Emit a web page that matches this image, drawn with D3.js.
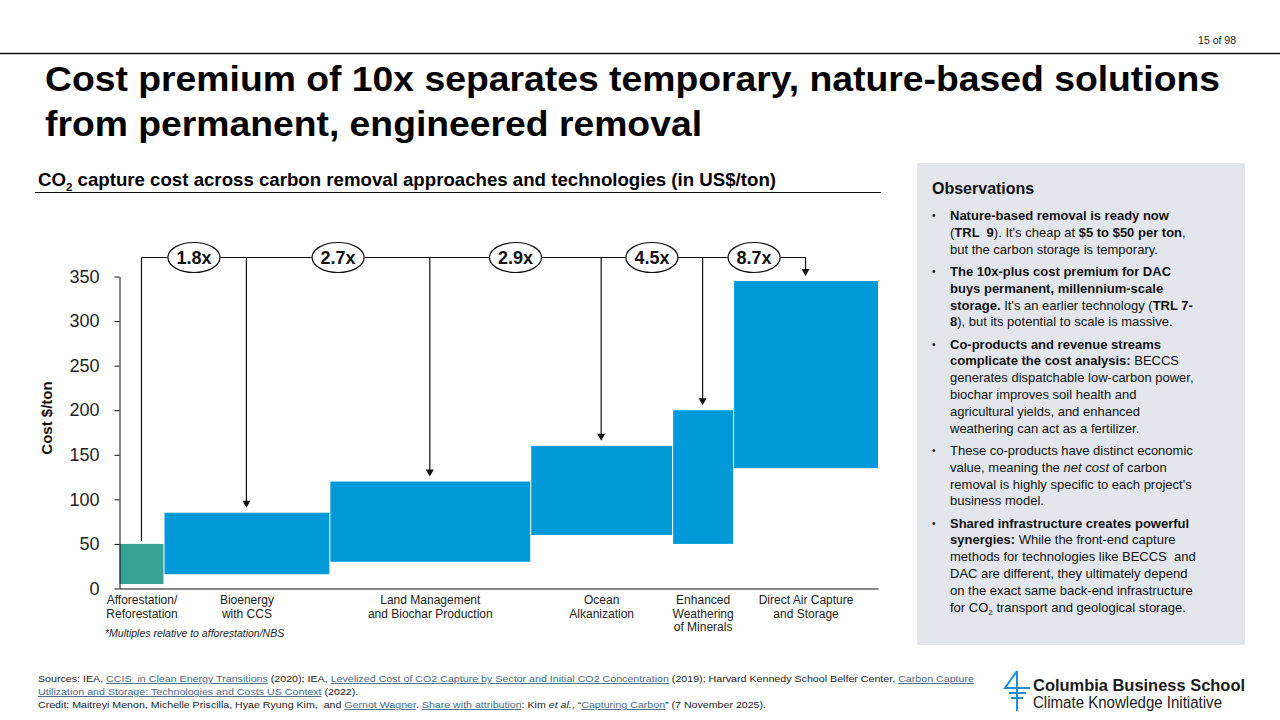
<!DOCTYPE html>
<html lang="en">
<head>
<meta charset="utf-8">
<title>Cost premium of 10x</title>
<script src="https://d3js.org/d3.v7.min.js"></script>
<style>
  body { margin: 0; background: #fff; }
  svg text { font-family: "Liberation Sans", Arial, sans-serif; white-space: pre; }
</style>
</head>
<body>
<svg id="slide" width="1280" height="720"></svg>
<script>
// Chart data
const categories = ["Afforestation/Reforestation", "Bioenergy with CCS", "Land Management and Biochar Production",
  "Ocean Alkanization", "Enhanced Weathering of Minerals", "Direct Air Capture and Storage"];
const categoryLines = [["Afforestation/", "Reforestation"], ["Bioenergy", "with CCS"], ["Land Management", "and Biochar Production"],
  ["Ocean", "Alkanization"], ["Enhanced", "Weathering", "of Minerals"], ["Direct Air Capture", "and Storage"]];
const costLow = [5, 16, 30, 60, 50, 135];
const costHigh = [50, 85, 120, 160, 200, 345];
const barWidths = [44, 166, 201, 142, 61, 145]; // relative widths as drawn
const multiples = ["1.8x", "2.7x", "2.9x", "4.5x", "8.7x"];
const yTicks = [0, 50, 100, 150, 200, 250, 300, 350];

const blue = "#009ad9", teal = "#36a394", linkColor = "#4a6b87";

const svg = d3.select("#slide");

// Rich text helper: segments are strings or [text, flags] (b bold, i italic, u link, s subscript)
function richLine(g, x, y, segs, size, color) {
  const t = g.append("text").attr("x", x).attr("y", y)
    .style("font-size", size + "px").style("fill", color || "#111");
  let shifted = false;
  segs.forEach(s => {
    const [txt, fl] = typeof s === "string" ? [s, ""] : s;
    const ts = t.append("tspan").text(txt);
    if (fl.includes("b")) ts.style("font-weight", "700");
    if (fl.includes("i")) ts.style("font-style", "italic");
    if (fl.includes("u")) ts.style("text-decoration", "underline").style("fill", linkColor);
    if (fl.includes("s")) {
      ts.style("font-size", (size * 0.62) + "px").attr("dy", size * 0.25);
      shifted = true;
    } else if (shifted) {
      ts.attr("dy", -size * 0.25);
      shifted = false;
    }
  });
  return t;
}

// Header
svg.append("line").attr("x1", 0).attr("x2", 1280).attr("y1", 53.5).attr("y2", 53.5)
  .attr("stroke", "#111").attr("stroke-width", 1.3);
svg.append("text").attr("x", 1236).attr("y", 44).attr("text-anchor", "end")
  .style("font-size", "10.5px").style("fill", "#222").text("15 of 98");

svg.append("text").attr("x", 45).attr("y", 91).attr("textLength", 1175).attr("lengthAdjust", "spacingAndGlyphs")
  .style("font-size", "35px").style("font-weight", "700").style("fill", "#000")
  .text("Cost premium of 10x separates temporary, nature-based solutions");
svg.append("text").attr("x", 45).attr("y", 136).attr("textLength", 657).attr("lengthAdjust", "spacingAndGlyphs")
  .style("font-size", "35px").style("font-weight", "700").style("fill", "#000")
  .text("from permanent, engineered removal");

// Chart subtitle
richLine(svg, 38, 186, [["CO", "b"], ["2", "bs"], [" capture cost across carbon removal approaches and technologies (in US$/ton)", "b"]], 19, "#000")
  .attr("textLength", 738).attr("lengthAdjust", "spacingAndGlyphs");
svg.append("line").attr("x1", 35).attr("x2", 881).attr("y1", 192.5).attr("y2", 192.5)
  .attr("stroke", "#111").attr("stroke-width", 1);

// Scales
const starts = [0, ...d3.cumsum(barWidths)].slice(0, barWidths.length);
const x = d3.scaleLinear().domain([0, d3.sum(barWidths)]).range([119.5, 878]);
const y = d3.scaleLinear().domain([0, 350]).range([588.5, 276.5]);
const centers = barWidths.map((w, i) => x(starts[i] + w / 2));

const chart = svg.append("g");

// Bars
chart.selectAll(".bar")
  .data(categories)
  .enter()
  .append("rect")
  .attr("class", "bar")
  .attr("x", (d, i) => x(starts[i]) + (i > 0 ? 1 : 0))
  .attr("width", (d, i) => x(starts[i] + barWidths[i]) - x(starts[i]) - (i > 0 ? 1 : 0))
  .attr("y", (d, i) => y(costHigh[i]))
  .attr("height", (d, i) => y(costLow[i]) - y(costHigh[i]))
  .attr("fill", (d, i) => i === 0 ? teal : blue);

// Axes
const yAxis = chart.append("g")
  .attr("transform", `translate(${x(0)},0)`)
  .call(d3.axisLeft(y).tickValues(yTicks).tickSize(5).tickSizeOuter(0).tickPadding(15));
yAxis.selectAll("text").style("font-size", "18px").style("fill", "#222")
  .style("font-family", "'Liberation Sans', Arial, sans-serif");
yAxis.selectAll("line, path").attr("stroke", "#111");

const xAxis = chart.append("g")
  .attr("transform", `translate(0,${y(0)})`)
  .call(d3.axisBottom(x).tickValues(barWidths.map((w, i) => starts[i] + w / 2)).tickSize(0).tickSizeOuter(0).tickFormat(""));
xAxis.select(".domain").attr("stroke", "#111");
xAxis.selectAll(".tick text").each(function (d, i) {
  const t = d3.select(this).attr("y", 0).attr("dy", null)
    .style("font-size", "12px").style("fill", "#222")
    .style("font-family", "'Liberation Sans', Arial, sans-serif");
  categoryLines[i].forEach((ln, k) => {
    t.append("tspan").attr("x", 0).attr("y", 15.5 + k * 13.7).text(ln);
  });
});

svg.append("text")
  .attr("transform", "translate(52,418) rotate(-90)")
  .attr("text-anchor", "middle")
  .style("font-size", "15px").style("font-weight", "700").style("fill", "#111")
  .text("Cost $/ton");

svg.append("text").attr("x", 105).attr("y", 637)
  .style("font-size", "10.5px").style("font-style", "italic").style("fill", "#222")
  .text("*Multiples relative to afforestation/NBS");

// Connectors and arrows
const railY = 257.5;
chart.append("line")
  .attr("x1", centers[0]).attr("x2", centers[centers.length - 1])
  .attr("y1", railY).attr("y2", railY)
  .attr("stroke", "#111").attr("stroke-width", 1.2);

centers.forEach((cx, i) => {
  const top = y(costHigh[i]);
  if (i === 0) {
    chart.append("line").attr("x1", cx).attr("x2", cx).attr("y1", railY).attr("y2", top - 3)
      .attr("stroke", "#111").attr("stroke-width", 1.2);
  } else {
    const tip = top - 5;
    chart.append("line").attr("x1", cx).attr("x2", cx).attr("y1", railY).attr("y2", tip - 6)
      .attr("stroke", "#111").attr("stroke-width", 1.2);
    chart.append("path")
      .attr("d", `M${cx - 4},${tip - 7}L${cx + 4},${tip - 7}L${cx},${tip}Z`)
      .attr("fill", "#111");
  }
});

const badges = chart.selectAll(".badge")
  .data(multiples)
  .enter()
  .append("g")
  .attr("class", "badge")
  .attr("transform", (d, i) => `translate(${(centers[i] + centers[i + 1]) / 2},${railY})`);
badges.append("ellipse").attr("rx", 26).attr("ry", 15)
  .attr("fill", "#fff").attr("stroke", "#111").attr("stroke-width", 1.2);
badges.append("text").attr("text-anchor", "middle").attr("y", 6.5)
  .style("font-size", "18px").style("font-weight", "700").style("fill", "#111")
  .text(d => d);

// Observations panel
const panel = svg.append("g");
panel.append("rect").attr("x", 917).attr("y", 163).attr("width", 328).attr("height", 482).attr("fill", "#e3e7ed");
panel.append("text").attr("x", 932).attr("y", 194)
  .style("font-size", "16px").style("font-weight", "700").style("fill", "#111").text("Observations");

const bullets = [
  [[["Nature-based removal is ready now", "b"]],
   ["(", ["TRL  9", "b"], "). It's cheap at ", ["$5 to $50 per ton", "b"], ","],
   ["but the carbon storage is temporary."]],
  [[["The 10x-plus cost premium for DAC", "b"]],
   [["buys permanent, millennium-scale", "b"]],
   [["storage.", "b"], " It's an earlier technology (", ["TRL 7-", "b"]],
   [["8", "b"], "), but its potential to scale is massive."]],
  [[["Co-products and revenue streams", "b"]],
   [["complicate the cost analysis:", "b"], " BECCS"],
   ["generates dispatchable low-carbon power,"],
   ["biochar improves soil health and"],
   ["agricultural yields, and enhanced"],
   ["weathering can act as a fertilizer."]],
  [["These co-products have distinct economic"],
   ["value, meaning the ", ["net cost", "i"], " of carbon"],
   ["removal is highly specific to each project's"],
   ["business model."]],
  [[["Shared infrastructure creates powerful", "b"]],
   [["synergies:", "b"], " While the front-end capture"],
   ["methods for technologies like BECCS  and"],
   ["DAC are different, they ultimately depend"],
   ["on the exact same back-end infrastructure"],
   ["for CO", ["2", "s"], " transport and geological storage."]]
];
let by = 220;
bullets.forEach(lines => {
  panel.append("text").attr("x", 932).attr("y", by - 1).style("font-size", "10px").style("fill", "#111").text("•");
  lines.forEach((segs, k) => {
    richLine(panel, 950, by + k * 16.8, segs, 13, "#111");
  });
  by += (lines.length - 1) * 16.8 + 22.3;
});

// Footer
const foot = svg.append("g");
const f1 = richLine(foot, 38, 682, ["Sources: IEA, ", ["CCIS  in Clean Energy Transitions", "u"], " (2020); IEA, ",
  ["Levelized Cost of CO2 Capture by Sector and Initial CO2 Concentration", "u"],
  " (2019); Harvard Kennedy School Belfer Center, ", ["Carbon Capture", "u"]], 9.5, "#222");
const squeeze = 936 / f1.node().getComputedTextLength();
f1.attr("textLength", 936).attr("lengthAdjust", "spacingAndGlyphs");
const f2 = richLine(foot, 38, 695, [["Utilization and Storage: Technologies and Costs US Context", "u"], " (2022)."], 9.5, "#222");
f2.attr("textLength", f2.node().getComputedTextLength() * squeeze).attr("lengthAdjust", "spacingAndGlyphs");
richLine(foot, 38, 708, ["Credit: Maitreyi Menon, Michelle Priscilla, Hyae Ryung Kim,  and ", ["Gernot Wagner", "u"], ". ",
  ["Share with attribution", "u"], ": Kim ", ["et al.", "i"], ", \u201c", ["Capturing Carbon", "u"], "\u201d (7 November 2025)."], 9.5, "#222")
  .attr("textLength", 728).attr("lengthAdjust", "spacingAndGlyphs");

// Logo
const logo = svg.append("g").attr("stroke", "#1a8fd6").attr("stroke-width", 2).attr("fill", "none");
logo.append("path").attr("d", "M1017,671L1017,711M1017,671L1005,688L1030,688M1009,693L1026,693M1011,698L1023,698");
svg.append("text").attr("x", 1033).attr("y", 691).attr("textLength", 212).attr("lengthAdjust", "spacingAndGlyphs")
  .style("font-size", "17px").style("font-weight", "700").style("fill", "#1a1a1a").text("Columbia Business School");
svg.append("text").attr("x", 1033).attr("y", 708).attr("textLength", 189).attr("lengthAdjust", "spacingAndGlyphs")
  .style("font-size", "16px").style("fill", "#1a1a1a").text("Climate Knowledge Initiative");
</script>
</body>
</html>
